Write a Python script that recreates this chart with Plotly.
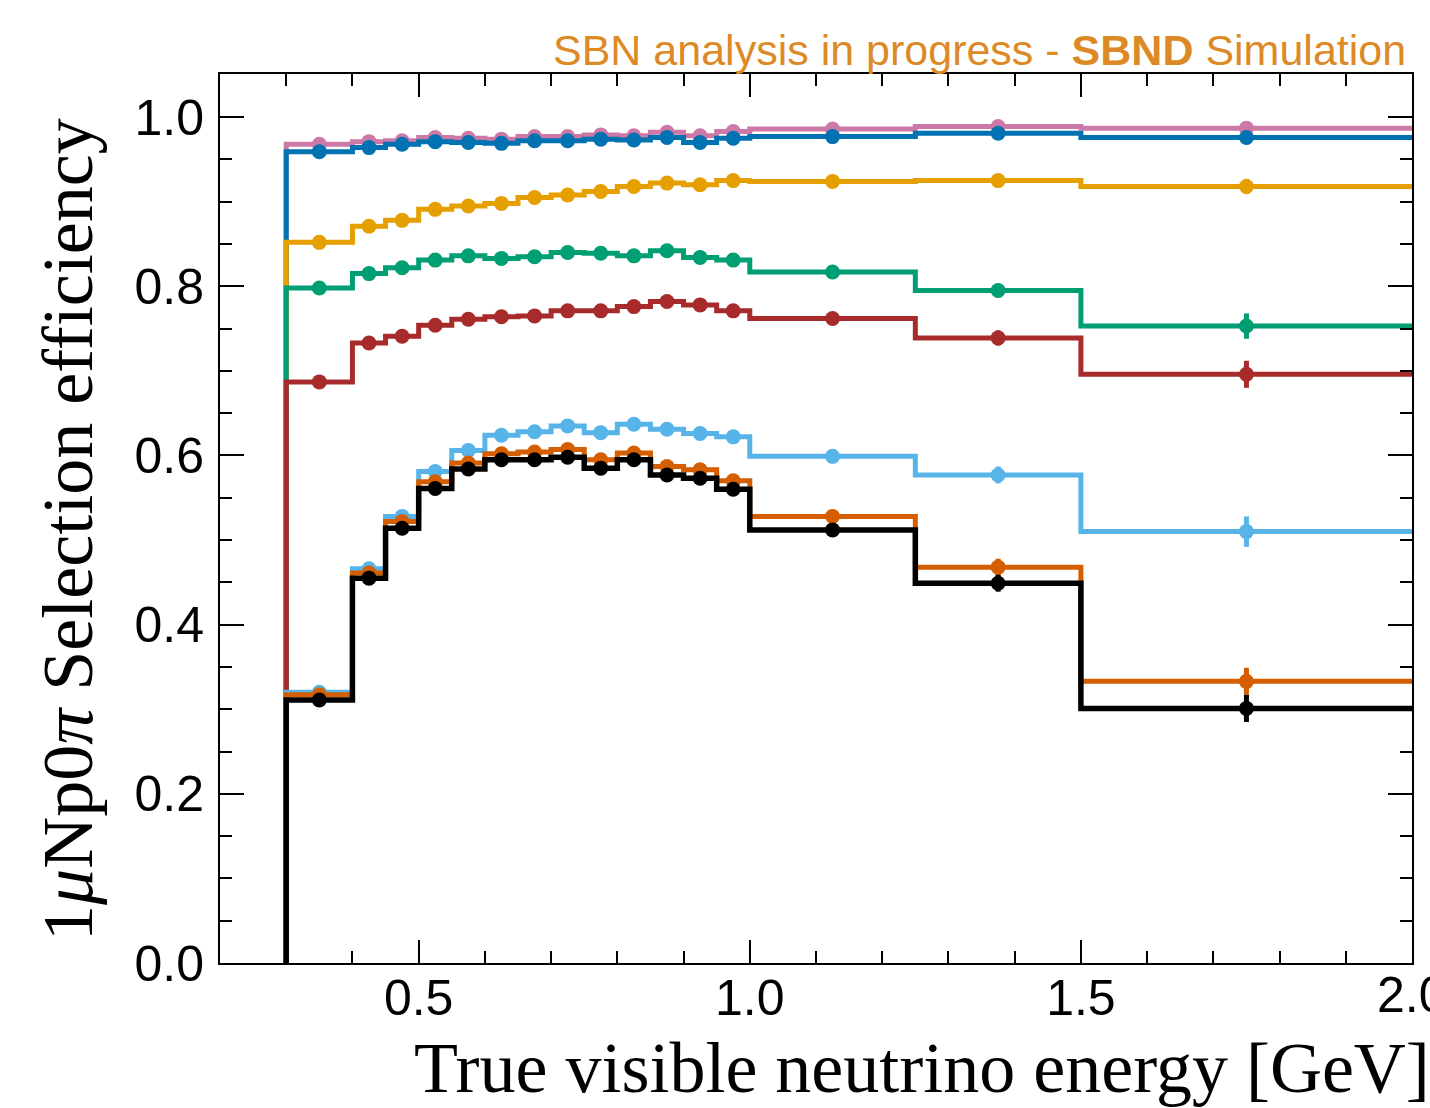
import plotly.graph_objects as go

# ---------------- data ----------------
bin_edges = [0.3, 0.4, 0.45, 0.5, 0.55, 0.6, 0.65, 0.7, 0.75, 0.8, 0.85, 0.9, 0.95, 1.0, 1.25, 1.5, 2.0]

eff_pink = [0.968, 0.971, 0.972, 0.976, 0.975, 0.974, 0.977, 0.977, 0.979, 0.978, 0.982, 0.978, 0.983, 0.986, 0.989, 0.987]
eff_blue = [0.959, 0.964, 0.968, 0.971, 0.970, 0.969, 0.972, 0.972, 0.974, 0.973, 0.976, 0.970, 0.975, 0.977, 0.981, 0.976]
eff_yellow = [0.852, 0.871, 0.878, 0.891, 0.895, 0.898, 0.905, 0.908, 0.912, 0.918, 0.922, 0.920, 0.925, 0.924, 0.925, 0.918]
eff_green = [0.798, 0.815, 0.822, 0.831, 0.836, 0.833, 0.835, 0.840, 0.839, 0.836, 0.842, 0.834, 0.831, 0.817, 0.795, 0.753]
eff_red = [0.687, 0.733, 0.741, 0.754, 0.761, 0.764, 0.765, 0.771, 0.771, 0.776, 0.782, 0.778, 0.771, 0.762, 0.739, 0.696]
eff_lightblue = [0.320, 0.466, 0.528, 0.581, 0.606, 0.624, 0.628, 0.635, 0.627, 0.637, 0.631, 0.626, 0.622, 0.599, 0.577, 0.510]
eff_orange = [0.317, 0.461, 0.522, 0.569, 0.591, 0.602, 0.604, 0.607, 0.595, 0.603, 0.587, 0.583, 0.570, 0.528, 0.468, 0.333]
eff_black = [0.311, 0.455, 0.514, 0.561, 0.584, 0.595, 0.595, 0.598, 0.585, 0.595, 0.577, 0.573, 0.560, 0.512, 0.449, 0.301]

err_pink = [0.003, 0.002, 0.002, 0.002, 0.002, 0.002, 0.002, 0.002, 0.002, 0.002, 0.002, 0.002, 0.002, 0.002, 0.003, 0.004]
err_blue = [0.004, 0.003, 0.003, 0.003, 0.003, 0.003, 0.003, 0.003, 0.003, 0.003, 0.003, 0.003, 0.003, 0.003, 0.004, 0.006]
err_yellow = [0.005, 0.004, 0.004, 0.004, 0.004, 0.004, 0.004, 0.004, 0.004, 0.004, 0.004, 0.004, 0.004, 0.004, 0.005, 0.009]
err_green = [0.006, 0.005, 0.005, 0.005, 0.005, 0.005, 0.005, 0.005, 0.005, 0.005, 0.005, 0.005, 0.005, 0.006, 0.008, 0.015]
err_red = [0.006, 0.006, 0.006, 0.006, 0.006, 0.006, 0.006, 0.006, 0.006, 0.006, 0.006, 0.006, 0.006, 0.007, 0.009, 0.016]
err_lightblue = [0.006, 0.006, 0.006, 0.006, 0.006, 0.006, 0.006, 0.006, 0.006, 0.006, 0.006, 0.006, 0.006, 0.008, 0.010, 0.018]
err_orange = [0.006, 0.006, 0.006, 0.006, 0.006, 0.006, 0.006, 0.006, 0.006, 0.006, 0.006, 0.006, 0.006, 0.008, 0.010, 0.016]
err_black = [0.006, 0.006, 0.006, 0.006, 0.006, 0.006, 0.006, 0.006, 0.006, 0.006, 0.006, 0.006, 0.006, 0.008, 0.010, 0.016]

x_tick_vals = [0.5, 1.0, 1.5, 2.0]
x_tick_text = ["0.5", "1.0", "1.5", "2.0"]
y_tick_vals = [0.0, 0.2, 0.4, 0.6, 0.8, 1.0]
y_tick_text = ["0.0", "0.2", "0.4", "0.6", "0.8", "1.0"]

series = [
    ("pink", eff_pink, err_pink, "#CC79A7", 5),
    ("blue", eff_blue, err_blue, "#0072B2", 5),
    ("yellow", eff_yellow, err_yellow, "#E69F00", 5),
    ("green", eff_green, err_green, "#009E73", 5),
    ("red", eff_red, err_red, "#A72B2A", 5),
    ("light blue", eff_lightblue, err_lightblue, "#56B4E9", 5),
    ("orange", eff_orange, err_orange, "#D55E00", 5),
    ("black", eff_black, err_black, "#000000", 5.5),
]

centers = [(a + b) / 2 for a, b in zip(bin_edges[:-1], bin_edges[1:])]

fig = go.Figure()
for name, vals, errs, color, lw in series:
    xs = [bin_edges[0]] + list(bin_edges)
    ys = [0.0] + list(vals) + [vals[-1]]
    fig.add_trace(go.Scatter(
        x=xs, y=ys, mode="lines", line=dict(color=color, width=lw, shape="hv"),
        name=name, showlegend=False, hoverinfo="skip"))
    fig.add_trace(go.Scatter(
        x=centers, y=vals, mode="markers", name=name, showlegend=False,
        marker=dict(color=color, size=15, line=dict(width=0)),
        error_y=dict(type="data", array=errs, visible=True, color=color, thickness=5, width=0)))

L, R, T, B = 220, 18, 74, 145
W, H = 1430, 1108
plot_w = W - L - R
plot_h = H - T - B

fig.update_layout(
    width=W, height=H,
    margin=dict(l=L, r=R, t=T, b=B),
    paper_bgcolor="white", plot_bgcolor="white",
    font=dict(family="Liberation Sans, Arial, sans-serif", color="black"),
)

tick_font = dict(family="Liberation Sans, Arial, sans-serif", size=50, color="black")
axis_common = dict(
    showgrid=False, zeroline=False, showline=True, linecolor="black", linewidth=2,
    mirror="allticks", ticks="inside", tickwidth=2, tickcolor="black",
    tickfont=tick_font,
)

# x tick labels except the last one (which is cut by the page edge) handled by the axis
fig.update_xaxes(
    range=[0.2, 2.0], tickmode="array", tickvals=x_tick_vals, ticktext=x_tick_text,
    ticklen=23, ticklabelstandoff=-10,
    minor=dict(dtick=0.1, tick0=0.0, ticks="inside", ticklen=12, tickwidth=1.5, tickcolor="black", showgrid=False),
    **axis_common)
fig.update_yaxes(
    range=[0.0, 1.051], tickmode="array", tickvals=y_tick_vals, ticktext=y_tick_text,
    ticklen=24, ticklabelstandoff=4,
    minor=dict(dtick=0.05, tick0=0.0, ticks="inside", ticklen=12, tickwidth=1.5, tickcolor="black", showgrid=False),
    **axis_common)

# last x tick label, partly beyond the page edge (plotly drops it otherwise)
fig.add_annotation(
    text=x_tick_text[-1], xref="x", yref="paper", x=x_tick_vals[-1],
    y=-(995 - (T + plot_h)) / plot_h, xanchor="center", yanchor="middle",
    showarrow=False, font=tick_font)

serif = "Liberation Serif, Times New Roman, serif"
fig.add_annotation(
    text="True visible neutrino energy [GeV]", xref="paper", yref="paper",
    x=(1432 - L) / plot_w, y=-(1068 - (T + plot_h)) / plot_h,
    xanchor="right", yanchor="middle", showarrow=False,
    font=dict(family=serif, size=72, color="black"))
fig.add_annotation(
    text="1<i>μ</i>Np0<i>π</i> Selection efficiency", xref="paper", yref="paper",
    x=(68 - L) / plot_w, y=(T + plot_h - 530) / plot_h, textangle=-90,
    xanchor="center", yanchor="middle", showarrow=False,
    font=dict(family=serif, size=72, color="black"))
fig.add_annotation(
    text="SBN analysis in progress - <b>SBND</b> Simulation", xref="paper", yref="paper",
    x=(1408 - L) / plot_w, y=(T + plot_h - 50) / plot_h,
    xanchor="right", yanchor="middle", showarrow=False,
    font=dict(family="Liberation Sans, Arial, sans-serif", size=43, color="#DD8A26"))

fig.write_html("out.html")
